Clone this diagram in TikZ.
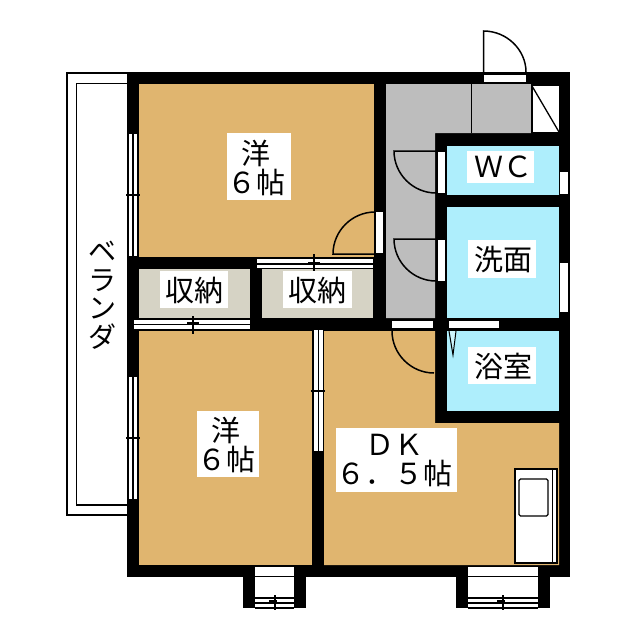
\documentclass[tikz,border=0pt]{standalone}
\usepackage{fontspec}
\newfontfamily\cjk{Noto Sans CJK JP}
\definecolor{tan1}{HTML}{E0B56F}
\definecolor{hall}{HTML}{BDBDBD}
\definecolor{aqua}{HTML}{AEEEFC}
\definecolor{clos}{HTML}{D6D3C5}
\tikzset{
  wall/.style={fill=black,draw=none},
  opening/.style={fill=white,draw=none},
  door/.style={draw=black,line width=1.5pt},
  thin1/.style={draw=black,line width=1.3pt},
  rbox/.style={fill=white,draw=none},
  rlabel/.style={inner sep=0pt,align=center,font=\cjk\fontsize{29}{29}\selectfont,text=black}
}
\begin{document}
\begin{tikzpicture}[x=1pt,y=-1pt]
\useasboundingbox (0,0) rectangle (640,640);
\fill[white] (0,0) rectangle (640,640);
% balcony
\draw[line width=2pt] (127,73) -- (67,73) -- (67,515) -- (127,515);
\draw[line width=1.6pt] (127,83.5) -- (76.5,83.5) -- (76.5,505) -- (127,505);
% building
\fill[wall] (127,72) rectangle (570,577);
\fill[wall] (243,577) rectangle (306,608);
\fill[wall] (456,577) rectangle (550,608);
% rooms
\fill[tan1] (138.5,84) rectangle (374,257);
\fill[tan1] (138.5,331) rectangle (312,565);
\fill[tan1] (324,331) -- (435,331) -- (435,423) -- (559,423) -- (559,565) -- (324,565) -- cycle;
\fill[hall] (386,84) -- (531,84) -- (531,133) -- (435,133) -- (435,318) -- (386,318) -- cycle;
\fill[clos] (139,269) rectangle (250,318);
\fill[clos] (262,269) rectangle (373,318);
\fill[aqua] (447,146) rectangle (559,195);
\fill[aqua] (447,207) rectangle (559,318);
\fill[aqua] (447,331) rectangle (559,411);
% entry closet
\fill[white] (532,86) rectangle (559,132);
\draw[thin1] (532,84) -- (532,133);
\draw[thin1] (532,86) -- (559,132);
\draw[thin1] (471.5,84) -- (471.5,133);
% entrance door
\fill[opening] (484,75) rectangle (526,82);
\draw[door] (483.5,72) -- (483.5,31) .. controls (507,31) and (526,50) .. (526,72);
% WC
\fill[opening] (438,152) rectangle (445,193);
\draw[door] (436,193) .. controls (413,193) and (394,174) .. (394,151) -- (436,151);
\fill[opening] (560,172) rectangle (568,194);
% wash
\fill[opening] (438,240) rectangle (445,281);
\draw[door] (436,281) .. controls (413,281) and (394,262) .. (394,239) -- (436,239);
\fill[opening] (560,263) rectangle (568,312);
% DK door
\fill[opening] (392,321) rectangle (433,328);
\draw[door] (392,331) .. controls (392,354) and (411,373) .. (434,373);
% bath door
\fill[opening] (449,321) rectangle (499,328);
\draw[line width=1pt,fill=aqua!60!white] (449,331) -- (453,355) -- (456,331);
% room 1 door
\fill[opening] (376,212) rectangle (383,253);
\draw[door] (375,212) .. controls (352,212) and (333,231) .. (333,254) -- (375,254);
% upper closet sliding
\fill[opening] (257,258) rectangle (373,268.5);
\draw[thin1] (257,258.5) -- (373,258.5);
\draw[thin1] (257,264) -- (373,264);
\draw[thin1] (257,268.5) -- (373,268.5);
\draw[thin1] (314,254) -- (314,272);
\draw[thin1] (308,263) -- (320,263);
% lower closet sliding
\fill[opening] (134,319.5) rectangle (250,329.5);
\draw[thin1] (134,319.5) -- (250,319.5);
\draw[thin1] (134,324.5) -- (250,324.5);
\draw[thin1] (134,329.5) -- (250,329.5);
\draw[thin1] (193,316) -- (193,334);
\draw[thin1] (187,323) -- (199,323);
% left windows
\fill[opening] (129,134) rectangle (137,256);
\draw[thin1] (133,134) -- (133,256);
\draw[thin1] (126,195) -- (140,195);
\fill[opening] (129,377) rectangle (137,499);
\draw[thin1] (133,377) -- (133,499);
\draw[thin1] (126,438) -- (140,438);
% inner sliding
\fill[opening] (314,330) rectangle (323,451);
\draw[thin1] (318.5,330) -- (318.5,451);
\draw[thin1] (311,391) -- (325,391);
% bay windows
\fill[opening] (255,567) rectangle (294,608);
\draw[thin1] (255,576.5) -- (294,576.5);
\draw[thin1] (255,598) -- (294,598);
\draw[thin1] (255,603) -- (294,603);
\draw[thin1] (255,608) -- (294,608);
\draw[thin1] (275,595) -- (275,610);
\draw[thin1] (269,601) -- (277,601);
\fill[opening] (468,567) rectangle (538,608);
\draw[thin1] (468,576.5) -- (538,576.5);
\draw[thin1] (468,598) -- (538,598);
\draw[thin1] (468,603) -- (538,603);
\draw[thin1] (468,608) -- (538,608);
\draw[thin1] (503,595) -- (503,610);
\draw[thin1] (497,601) -- (505,601);
% kitchen
\draw[thin1,fill=white] (515,469) rectangle (557,563);
\draw[thin1] (552.5,469) -- (552.5,563);
\draw[thin1,rounded corners=1.5pt] (519,479) rectangle (548,516);
% label backgrounds
\fill[rbox] (227,133) rectangle (291,200);
\fill[rbox] (197,411) rectangle (259,477);
\fill[rbox] (160,271) rectangle (228,308);
\fill[rbox] (283,271) rectangle (352,308);
\fill[rbox] (467,151) rectangle (534,183);
\fill[rbox] (468,240) rectangle (536,278);
\fill[rbox] (468,347) rectangle (536,384);
\fill[rbox] (336,428) rectangle (457,492);
% labels
\node[rlabel] (y1) at (256,168) {洋\\６帖};
\node[rlabel] (y2) at (226,445) {洋\\６帖};
\node[rlabel] (c1) at (194,290) {収納};
\node[rlabel] (c2) at (317,290) {収納};
\node[rlabel] (wc) at (503,167) {ＷＣ};
\node[rlabel] (w) at (503,259) {洗面};
\node[rlabel] (b) at (503,366) {浴室};
\node[rlabel] (dk) at (394,460) {ＤＫ\\６．５帖};
\node[rlabel,font=\cjk\fontsize{28}{28.5}\selectfont] (v) at (102,295) {ベ\\ラ\\ン\\ダ};
\end{tikzpicture}
\end{document}
